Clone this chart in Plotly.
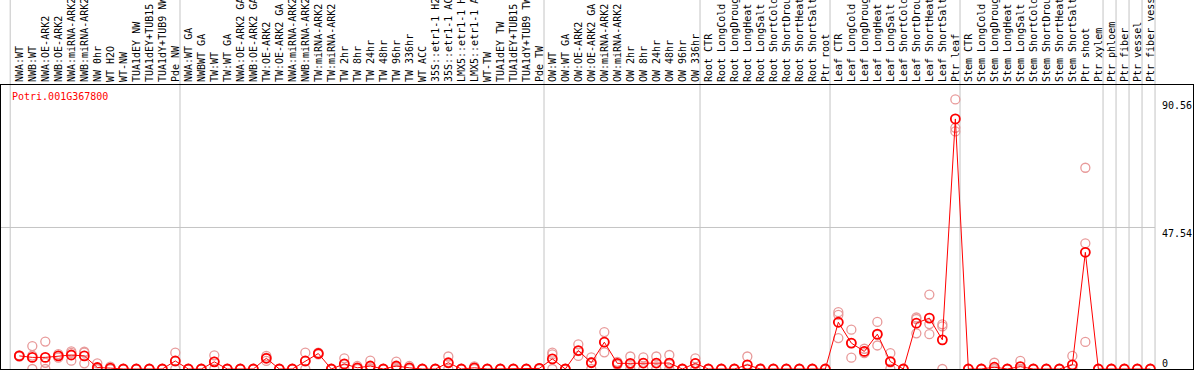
import plotly.graph_objects as go

labels = [
    "NWA:WT", "NWB:WT", "NWA:OE-ARK2", "NWB:OE-ARK2", "NWA:miRNA-ARK2", "NWB:miRNA-ARK2",
    "NW 0hr", "WT H2O", "WT-NW", "TUA1dEY NW", "TUA1dEY+TUB15 NW", "TUA1dY+TUB9 NW", "Pde NW",
    "NWA:WT GA", "NWBWT GA", "TW:WT", "TW:WT GA", "NWA:OE-ARK2 GA", "NWB:OE-ARK2 GA",
    "TW:OE-ARK2", "TW:OE-ARK2 GA", "NWA:miRNA-ARK2 GA", "NWB:miRNA-ARK2 GA", "TW:miRNA-ARK2",
    "TW:miRNA-ARK2 GA", "TW 2hr", "TW 8hr", "TW 24hr", "TW 48hr", "TW 96hr", "TW 336hr",
    "WT ACC", "35S::etr1-1 H2O", "35S::etr1-1 ACC", "LMX5::etr1-1 H2O", "LMX5::etr1-1 ACC",
    "WT-TW", "TUA1dEY TW", "TUA1dEY+TUB15 TW", "TUA1dY+TUB9 TW", "Pde TW",
    "OW:WT", "OW:WT GA", "OW:OE-ARK2", "OW:OE-ARK2 GA", "OW:miRNA-ARK2", "OW:miRNA-ARK2 GA",
    "OW 2hr", "OW 8hr", "OW 24hr", "OW 48hr", "OW 96hr", "OW 336hr",
    "Root CTR", "Root LongCold", "Root LongDrought", "Root LongHeat", "Root LongSalt",
    "Root ShortCold", "Root ShortDrought", "Root ShortHeat", "Root ShortSalt", "Ptr root",
    "Leaf CTR", "Leaf LongCold", "Leaf LongDrought", "Leaf LongHeat", "Leaf LongSalt",
    "Leaf ShortCold", "Leaf ShortDrought", "Leaf ShortHeat", "Leaf ShortSalt", "Ptr leaf",
    "Stem CTR", "Stem LongCold", "Stem LongDrought", "Stem LongHeat", "Stem LongSalt",
    "Stem ShortCold", "Stem ShortDrought", "Stem ShortHeat", "Stem ShortSalt", "Ptr shoot",
    "Ptr xylem", "Ptr phloem", "Ptr fiber", "Ptr vessel", "Ptr fiber vessel",
]

group_sizes = [13, 28, 12, 10, 10, 11, 1, 1, 1, 1]

mean_vals = [
    4.4, 3.9, 3.9, 4.4, 4.7, 4.4, 0.5, 0.3, 0, 0, 0, 0, 2.7,
    0, 0, 2.4, 0, 0, 0, 3.6, 0, 0, 2.7, 5.2, 0, 1.7, 0.4, 1.0, 0, 1.0, 0.4,
    0, 0, 2.1, 0, 0.4, 0, 0, 0, 0, 0.2,
    3.4, 0, 6.2, 2.1, 9.0, 1.9, 1.9, 2.0, 2.0, 2.0, 0, 1.9,
    0, 0, 0, 1.4, 0, 0, 0, 0, 0, 0,
    15.7, 8.7, 5.9, 11.7, 2.5, 0, 15.4, 17.1, 9.8, 84.0,
    0, 0, 0.6, 0, 0.8, 0, 0, 0, 1.4, 39.2, 0,
    0, 0, 0, 0,
]

rep1 = [
    4.6, 7.7, 9.2, 5.0, 5.9, 5.8, 1.9, 0.8, 0, 0, 0, 0, 5.5,
    0, 0, 4.6, 0, 0, 0, 4.4, 0, 0, 5.5, 5.5, 0, 3.6, 1.0, 2.8, 0, 2.5, 1.0,
    0, 0, 4.2, 0, 0.9, 0, 0, 0, 0, 0.3,
    5.5, 0, 8.3, 3.9, 12.4, 2.4, 4.2, 3.9, 4.2, 4.7, 0, 3.6,
    0, 0, 0, 4.2, 0, 0, 0, 0, 0, 0,
    19.1, 13.2, 6.8, 15.8, 5.3, 0, 17.3, 25.0, 15.0, 90.56,
    0, 0, 2.1, 0, 2.7, 0, 0, 0, 4.4, 67.6, 0,
    0, 0, 0, 0,
]

rep2 = [
    4.2, 4.5, 2.1, 4.4, 5.4, 5.5, 0, 0, 0, 0, 0, 0, 2.6,
    0, 0, 2.5, 0, 0, 0, 3.8, 0, 0, 2.6, 5.2, 0, 1.6, 0.3, 0.3, 0, 0.5, 0.3,
    0, 0, 2.0, 0, 0.3, 0, 0, 0, 0, 0,
    4.9, 0, 6.0, 2.3, 9.1, 1.8, 1.6, 2.0, 2.0, 1.6, 0, 1.9,
    0, 0, 0, 0, 0, 0, 0, 0, 0, 0,
    18.2, 8.7, 5.9, 11.5, 2.2, 0, 16.8, 15.1, 14.3, 81.0,
    0, 0, 0, 0, 0, 0, 0, 0, 0, 42.2, 0,
    0, 0, 0, 0,
]

rep3 = [
    4.4, 0, 0, 3.8, 2.8, 1.9, 0, 0, 0, 0, 0, 0, 0,
    0, 0, 0, 0, 0, 0, 2.7, 0, 0, 0, 4.9, 0, 0, 0, 0, 0, 0, 0,
    0, 0, 0, 0, 0, 0, 0, 0, 0, 0,
    0, 0, 4.4, 0, 5.6, 1.4, 0, 0, 0, 0, 0, 0,
    0, 0, 0, 0, 0, 0, 0, 0, 0, 0,
    10.4, 3.8, 5.3, 7.9, 0, 0, 12.0, 11.7, 0, 79.8,
    0, 0, 0, 0, 0, 0, 0, 0, 0, 9.1, 0,
    0, 0, 0, 0,
]

gene_id = "Potri.001G367800"
y_tick_vals = [90.56, 47.54, 0]

n = len(labels)
idx = list(range(n))
FONT = "DejaVu Sans Mono"
GRAY = "#c4c4c4"

fig = go.Figure()

rep_x = idx * 3
rep_y = rep1 + rep2 + rep3
fig.add_trace(go.Scatter(
    x=rep_x, y=rep_y, mode="markers",
    marker=dict(symbol="circle-open", size=9, color="#e89a9a", line=dict(width=1.3, color="#e89a9a")),
    showlegend=False, hoverinfo="skip",
))
fig.add_trace(go.Scatter(
    x=idx, y=mean_vals, mode="lines+markers",
    line=dict(color="#ff0000", width=1),
    marker=dict(symbol="circle-open", size=9, color="#ff0000", line=dict(width=1.8, color="#ff0000")),
    showlegend=False,
))

shapes = []
seps = [-0.7]
acc = 0
for g in group_sizes:
    acc += g
    seps.append(acc - 1 + 0.36)
for s in seps:
    shapes.append(dict(type="line", xref="x", yref="paper", x0=s, x1=s, y0=0, y1=1.4,
                       line=dict(color=GRAY, width=1), layer="below"))
shapes.append(dict(type="line", xref="x", yref="y", x0=-1.5, x1=seps[-1], y0=y_tick_vals[1], y1=y_tick_vals[1],
                   line=dict(color=GRAY, width=1), layer="below"))

annotations = [
    dict(text=gene_id, xref="paper", yref="paper", x=0.0076, y=0.958, xanchor="left", yanchor="middle",
         showarrow=False, font=dict(family=FONT, size=10, color="#ff0000")),
]
for v in y_tick_vals:
    annotations.append(dict(text=str(v) if v != 0 else "0", xref="paper", yref="y", x=0.9735, y=v,
                            xanchor="left", yanchor="top" if v != 0 else "bottom",
                            showarrow=False, font=dict(family=FONT, size=10, color="#000000"),
                            borderpad=0, yshift=0 if v != 0 else -1))

fig.update_layout(
    width=1194, height=370,
    margin=dict(l=1, r=1, t=85, b=1, autoexpand=False),
    paper_bgcolor="white", plot_bgcolor="white",
    shapes=shapes, annotations=annotations,
    xaxis=dict(range=[-1.408, 90.28], side="top", tickmode="array", tickvals=idx, ticktext=labels,
               tickangle=-90, ticks="", showgrid=False, zeroline=False, automargin=False,
               tickfont=dict(family=FONT, size=10, color="#000000"),
               showline=True, mirror=True, linecolor="#000000", linewidth=1),
    yaxis=dict(range=[0, 95.4], showticklabels=False, ticks="", showgrid=False, zeroline=False,
               automargin=False,
               showline=True, mirror=True, linecolor="#000000", linewidth=1),
)

fig.write_html("out.html", config={"displayModeBar": False},
               post_script="document.body.style.margin='0';document.body.style.overflow='hidden';")
